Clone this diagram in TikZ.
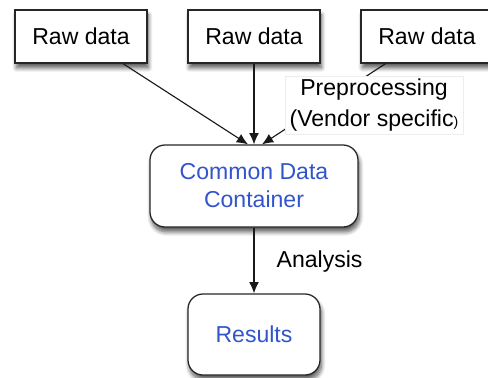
\documentclass[tikz,border=0pt]{standalone}
\usepackage{fontspec}
\setmainfont{Liberation Sans}
\usepackage{xcolor}
\usetikzlibrary{calc, arrows.meta, positioning, shadows.blur}

\definecolor{boxblue}{RGB}{51,85,204}

\begin{document}
\begin{tikzpicture}[auto, >={Latex[length=8pt,width=7pt]}, font=\fontsize{16.4}{19.9}\selectfont]
\tikzstyle{rawbox} = [draw=black!85, line width=0.9pt, fill=white, minimum width=3.3cm, minimum height=1.325cm, blur shadow={shadow xshift=1pt, shadow yshift=-3.5pt, shadow blur radius=3pt, shadow blur steps=8, shadow opacity=65}]
\tikzstyle{round} = [rawbox, rounded corners=0.375cm, text=boxblue, align=center]
\tikzstyle{invis} = [draw=none, align=center]
\tikzstyle{wire} = [line width=0.8pt, black!90]

\useasboundingbox (0, 0) rectangle (12.2, -9.425);

\node[rawbox] 			at (2.025, -0.9125) 	(raw1) 	{Raw data};
\node[rawbox] 			at (6.35, -0.9125) 	(raw2) 	{Raw data};
\node[rawbox]			at (10.675, -0.9125)	(raw3)	{Raw data};
\node[round, minimum width=5.2cm, minimum height=2.05cm]	at (6.35, -4.65)	(cont)	{Common Data\\Container};
\node[round, minimum height=2.025cm]	at (6.35, -8.3625)	(res)	{Results};
\node[invis]			at (7.99, -6.55)	(ana)	{Analysis};

\path[->, wire]
(raw1)	edge	node	{}	([xshift=-0.15cm]cont.north)
(raw2)	edge	node	{}	(cont.north)
(raw3)	edge	node 	{}	([xshift=0.2cm]cont.north)
(cont)	edge 	node 	{} 	(res);

% label sits on top of the third wire
\node[draw=black!7, fill=white, inner sep=1pt, minimum width=4.45cm, minimum height=1.45cm, align=center]
	at (9.35, -2.62)	(prep)	{Preprocessing\\[2pt](Vendor specific{\fontsize{10}{12}\selectfont )}};
\end{tikzpicture}
\end{document}
